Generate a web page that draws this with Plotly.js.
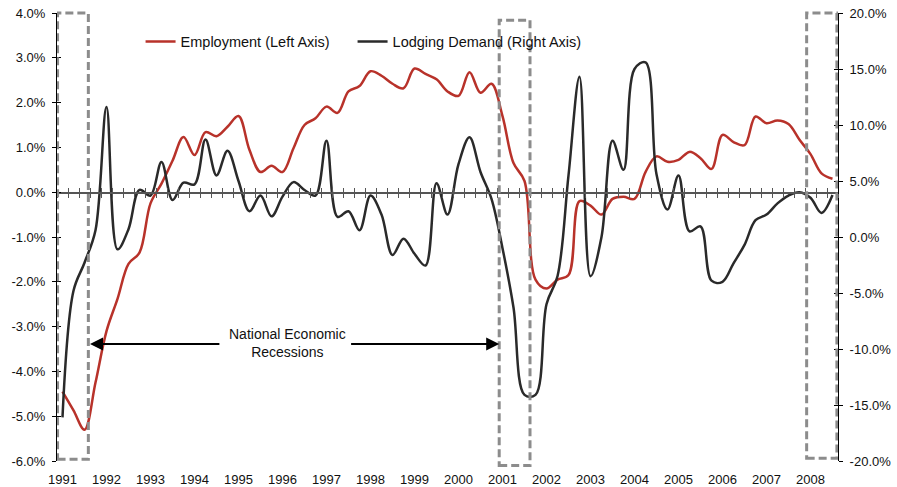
<!DOCTYPE html>
<html>
<head>
<meta charset="utf-8">
<script src="https://cdn.plot.ly/plotly-3.0.1.min.js"></script>
<style>
html,body{margin:0;padding:0;background:#fff;}
#chart{width:897px;height:487px;}
</style>
</head>
<body>
<div id="chart"></div>
<script>
// ---- data (quarterly, 1991 Q1 - 2008 Q3) ----
const years = ['1991','1992','1993','1994','1995','1996','1997','1998','1999','2000',
               '2001','2002','2003','2004','2005','2006','2007','2008'];
const quarterNames = ['Q1','Q2','Q3','Q4'];
const quarters = years.flatMap(y => quarterNames.map(q => y + ' ' + q)).slice(0, 71);

// Employment growth, % (left axis)
const employment = [
  -4.45, -4.87, -5.30, -4.25, -3.10, -2.38, -1.60, -1.35, -0.25, 0.19,
   0.70,  1.23,  0.83,  1.34,  1.25,  1.46,  1.70,  0.94,  0.45, 0.59,
   0.45,  0.98,  1.50,  1.65,  1.91,  1.77,  2.25,  2.37,  2.70, 2.60,
   2.42,  2.32,  2.76,  2.64,  2.52,  2.25,  2.15,  2.68,  2.22, 2.42,
   1.70,  0.65,  0.25, -1.95, -2.15, -1.95, -1.85, -0.20, -0.30, -0.50,
  -0.15, -0.10, -0.15,  0.45,  0.80,  0.68,  0.72,  0.90,  0.76, 0.52,
   1.28,  1.12,  1.05,  1.69,  1.54,  1.60,  1.52,  1.17,  0.85, 0.42,
   0.30
];

// Lodging demand growth, % (right axis)
const lodging = [
  -16.1, -4.8, -2.3,  0.6, 11.6, -1.1,  0.7,  4.2,  3.7,  6.7,
    3.3,  4.85, 4.7,  8.7,  5.5,  7.7,  5.0,  2.3,  3.7,  1.85,
    3.6,  4.9,  4.2,  3.7,  8.6,  1.8,  2.3,  0.6,  3.7,  2.0,
   -1.6, -0.15,-1.5, -2.55, 4.8,  2.0,  6.5,  8.9,  5.8,  3.4,
   -1.0, -6.3,-14.1,-14.1, -6.0, -3.5,  5.5, 14.3, -3.5,  0.0,
    8.6,  6.0, 15.0, 15.6,  5.6,  2.45, 5.5,  0.5,  0.95, -3.9,
   -4.0, -2.35,-0.7,  1.5,  2.0,  3.0,  3.7,  4.0,  3.5,  2.15,
    3.75
];

const leftTicks  = [-6, -5, -4, -3, -2, -1, 0, 1, 2, 3, 4];
const rightTicks = [-20, -15, -10, -5, 0, 5, 10, 15, 20];

// National economic recessions (position on the quarterly scale)
const recessionStart = [-0.45, 39.7, 67.65];
const recessionEnd   = [2.35, 42.5, 70.4];

const seriesNames = ['Employment (Left Axis)', 'Lodging Demand (Right Axis)'];
const recessionLabel = 'National Economic<br>Recessions';

// ---- derived ----
const xIdx = quarters.map((_, i) => i);
const yearTickVals = years.map((_, k) => k * 4);
const fmt = v => v.toFixed(1) + '%';

const FONT = 'Arial, "Liberation Sans", sans-serif';
const xRange = [-0.5, 70.5];

const traces = [
  {x: xIdx, y: employment, name: seriesNames[0], type: 'scatter', mode: 'lines',
   line: {color: '#B8322A', width: 2.5, shape: 'spline', smoothing: 1},
   xaxis: 'x', yaxis: 'y', hoverinfo: 'skip', legendwidth: 167},
  {x: xIdx, y: lodging, name: seriesNames[1], type: 'scatter', mode: 'lines',
   line: {color: '#2A2A2A', width: 2.5, shape: 'spline', smoothing: 1},
   xaxis: 'x', yaxis: 'y2', hoverinfo: 'skip'},
  // empty helper traces so the decorative axes (zero-line ticks, crossing ticks) are drawn
  {x: [], y: [], type: 'scatter', mode: 'lines', xaxis: 'x2', yaxis: 'y', showlegend: false, hoverinfo: 'skip'},
  {x: [], y: [], type: 'scatter', mode: 'lines', xaxis: 'x3', yaxis: 'y', showlegend: false, hoverinfo: 'skip'},
  {x: [], y: [], type: 'scatter', mode: 'lines', xaxis: 'x', yaxis: 'y3', showlegend: false, hoverinfo: 'skip'},
  {x: [], y: [], type: 'scatter', mode: 'lines', xaxis: 'x', yaxis: 'y4', showlegend: false, hoverinfo: 'skip'}
];

const boxTop = [1.0, 0.984, 1.0];
const boxBottom = [0.004, -0.010, 0.006];
const shapes = recessionStart.map((s, k) => ({
  type: 'rect', xref: 'x', yref: 'paper',
  x0: s, x1: recessionEnd[k], y0: boxBottom[k], y1: boxTop[k],
  line: {color: '#8C8C8C', width: 3, dash: '8px,4px'},
  fillcolor: 'rgba(0,0,0,0)', layer: 'above'
}));

const annotations = [
  {x: 20.45, y: -3.36, xref: 'x', yref: 'y', text: recessionLabel, showarrow: false,
   font: {family: FONT, size: 14, color: '#111'}, align: 'center'},
  {x: recessionEnd[0] + 0.15, y: -3.39, xref: 'x', yref: 'y', ax: 14.4, ay: -3.39,
   axref: 'x', ayref: 'y', text: '', showarrow: true, arrowhead: 2, arrowsize: 1.3,
   arrowwidth: 2, arrowcolor: '#000'},
  {x: recessionStart[1], y: -3.39, xref: 'x', yref: 'y', ax: 26.1, ay: -3.39,
   axref: 'x', ayref: 'y', text: '', showarrow: true, arrowhead: 2, arrowsize: 1.3,
   arrowwidth: 2, arrowcolor: '#000'}
];

const tickFont = {family: FONT, size: 13, color: '#111'};

const layout = {
  width: 897, height: 487,
  margin: {l: 57, r: 59, t: 13, b: 26, pad: 0},
  paper_bgcolor: '#fff', plot_bgcolor: '#fff',
  font: {family: FONT, color: '#111'},
  showlegend: true,
  legend: {orientation: 'h', x: 0.107, y: 0.936, xanchor: 'left', yanchor: 'middle',
           font: {family: FONT, size: 14.5, color: '#111'}, bgcolor: 'rgba(0,0,0,0)',
           traceorder: 'normal'},
  xaxis: {range: xRange, tickmode: 'array', tickvals: yearTickVals, ticktext: years,
          showline: false, ticks: '', showgrid: false, zeroline: false,
          tickfont: tickFont, ticklabelstandoff: 9, fixedrange: true},
  xaxis2: {overlaying: 'x', anchor: 'free', position: 0.6, range: xRange, side: 'bottom',
           tickmode: 'linear', tick0: 0.5, dtick: 1, ticks: 'outside', ticklen: 4,
           tickwidth: 1, tickcolor: '#555', showline: true, linecolor: '#555', linewidth: 1.5,
           showticklabels: false, showgrid: false, zeroline: false},
  xaxis3: {overlaying: 'x', anchor: 'free', position: 0.6, range: xRange, side: 'bottom',
           tickmode: 'linear', tick0: 0.5, dtick: 1, ticks: 'inside', ticklen: 4,
           tickwidth: 1, tickcolor: '#555', showline: false,
           showticklabels: false, showgrid: false, zeroline: false},
  yaxis: {range: [-6, 4], tickmode: 'array', tickvals: leftTicks, ticktext: leftTicks.map(fmt),
          ticks: 'outside', ticklen: 4, tickwidth: 1, tickcolor: '#000',
          showline: true, linecolor: '#000', linewidth: 1,
          showgrid: false, zeroline: false, tickfont: tickFont, ticklabelstandoff: 4},
  yaxis3: {overlaying: 'y', side: 'left', anchor: 'x', range: [-6, 4], tickmode: 'array',
           tickvals: leftTicks, ticks: 'inside', ticklen: 4, tickwidth: 1, tickcolor: '#000',
           showticklabels: false, showline: false, showgrid: false, zeroline: false},
  yaxis2: {overlaying: 'y', side: 'right', anchor: 'x', range: [-20, 20], tickmode: 'array',
           tickvals: rightTicks, ticktext: rightTicks.map(fmt),
           ticks: 'outside', ticklen: 4, tickwidth: 1, tickcolor: '#000',
           showline: true, linecolor: '#000', linewidth: 1,
           showgrid: false, zeroline: false, tickfont: tickFont, ticklabelstandoff: 4},
  yaxis4: {overlaying: 'y', side: 'right', anchor: 'x', range: [-20, 20], tickmode: 'array',
           tickvals: rightTicks, ticks: 'inside', ticklen: 4, tickwidth: 1, tickcolor: '#000',
           showticklabels: false, showline: false, showgrid: false, zeroline: false},
  shapes: shapes,
  annotations: annotations
};

Plotly.newPlot('chart', traces, layout, {displayModeBar: false, staticPlot: true});
</script>
</body>
</html>
